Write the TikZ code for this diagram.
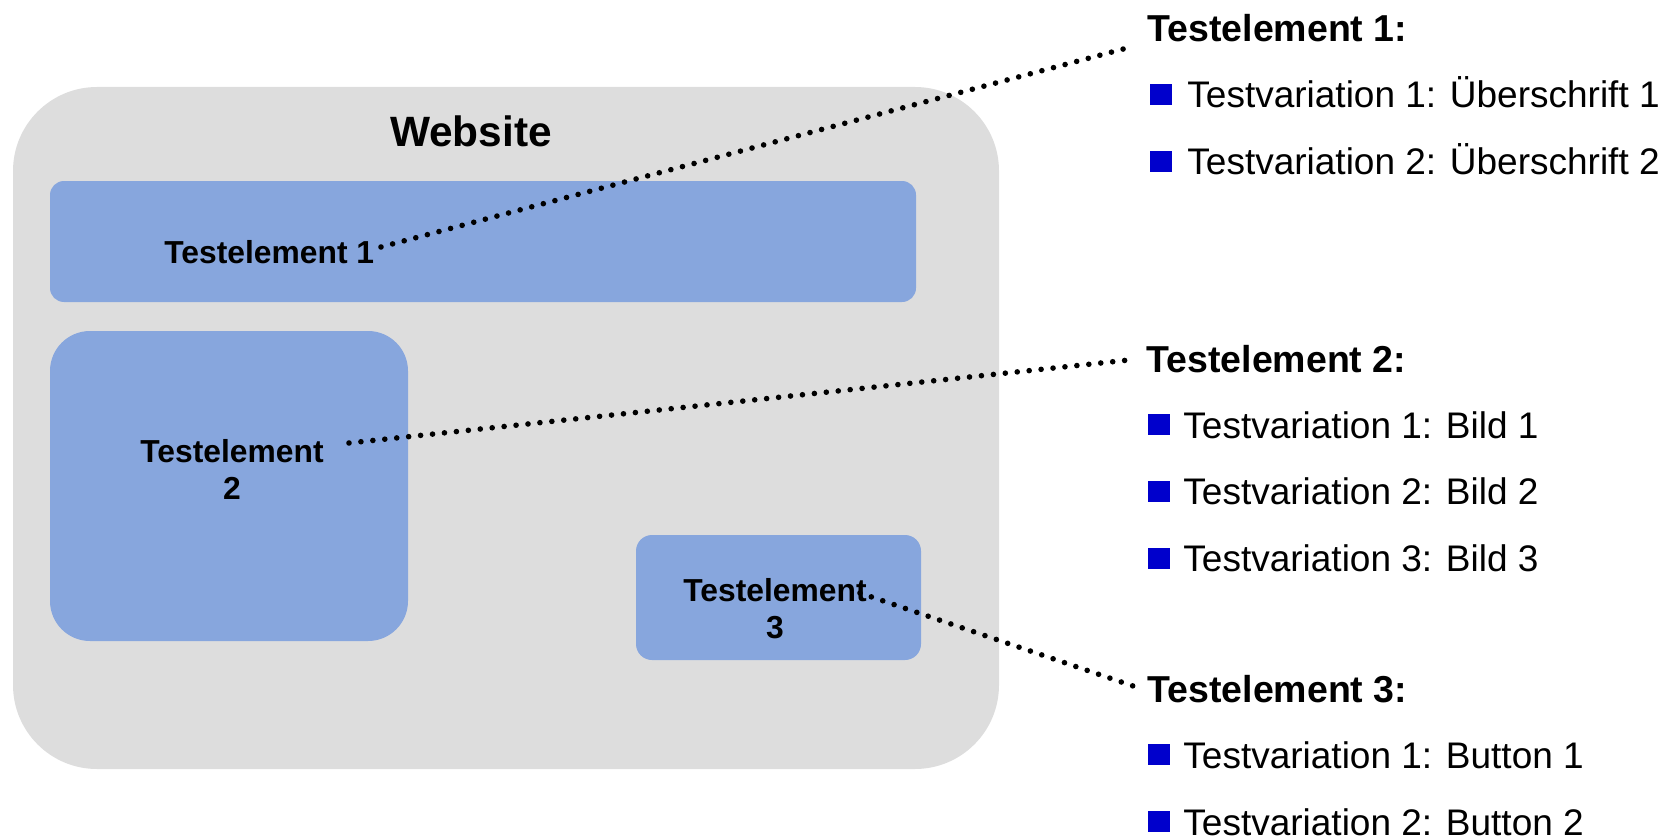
\documentclass[tikz,border=0pt]{standalone}
\usepackage{fontspec}
\setmainfont{Liberation Sans}
\definecolor{webgray}{HTML}{DDDDDD}
\definecolor{boxblue}{HTML}{87A6DD}
\definecolor{bulletblue}{HTML}{0000CC}
\tikzset{
  pane/.style={rectangle, fill=webgray, inner sep=0pt, outer sep=0pt},
  elembox/.style={rectangle, fill=boxblue, inner sep=0pt, outer sep=0pt},
  elemlabel/.style={inner sep=0pt, align=center, font=\bfseries\fontsize{15.9}{18.5}\selectfont},
  heading/.style={inner sep=0pt, anchor=base west, font=\bfseries\fontsize{18.75}{22}\selectfont},
  itemtext/.style={inner sep=0pt, anchor=base west, font=\fontsize{18.5}{22}\selectfont},
  bulletsq/.style={rectangle, fill=bulletblue, inner sep=0pt, outer sep=0pt, minimum width=10.8pt, minimum height=10.5pt},
  dotline/.style={line width=2.8pt, line cap=round, dash pattern=on 0pt off 6pt}
}
\begin{document}
\begin{tikzpicture}[x=0.5pt, y=-0.5pt]
\useasboundingbox (0,0) rectangle (1670,840);

% website pane
\node[pane, rounded corners=42pt, minimum width=493pt, minimum height=341pt] (web) at (506,428) {};
\node[inner sep=0pt, anchor=base, font=\bfseries\fontsize{21.2}{25}\selectfont] (webtitle) at (471,147) {Website};

% element boxes
\node[elembox, rounded corners=7pt, minimum width=433pt, minimum height=60.5pt] (box1) at (483,241.5) {};
\node[elembox, rounded corners=20pt, minimum width=179pt, minimum height=155pt] (box2) at (229,486) {};
\node[elembox, rounded corners=8pt, minimum width=142.5pt, minimum height=62.5pt] (box3) at (778.5,597.5) {};

\node[elemlabel, anchor=base west] (lab1) at (164,263) {Testelement 1};
\node[elemlabel] (lab2) at (232,469) {Testelement\\2};
\node[elemlabel] (lab3) at (775,609) {Testelement\\3};

% right side lists
\node[heading] (h1) at (1147,42) {Testelement 1:};
\node[bulletsq] (b11) at (1161,94.5) {};
\node[itemtext] (t11) at (1187,108) {Testvariation 1: Überschrift 1};
\node[bulletsq] (b12) at (1161,161.5) {};
\node[itemtext] (t12) at (1187,174) {Testvariation 2: Überschrift 2};

\node[heading] (h2) at (1146,372) {Testelement 2:};
\node[bulletsq] (b21) at (1159,424.5) {};
\node[itemtext] (t21) at (1183,438) {Testvariation 1: Bild 1};
\node[bulletsq] (b22) at (1159,491.5) {};
\node[itemtext] (t22) at (1183,504) {Testvariation 2: Bild 2};
\node[bulletsq] (b23) at (1159,558) {};
\node[itemtext] (t23) at (1183,571) {Testvariation 3: Bild 3};

\node[heading] (h3) at (1147,702) {Testelement 3:};
\node[bulletsq] (b31) at (1159,754.5) {};
\node[itemtext] (t31) at (1183,768) {Testvariation 1: Button 1};
\node[bulletsq] (b32) at (1159,821.5) {};
\node[itemtext] (t32) at (1183,835) {Testvariation 2: Button 2};

% dotted connectors
\coordinate (c1s) at (381,247);
\coordinate (c1e) at (1127,48);
\coordinate (c2s) at (349,443);
\coordinate (c2e) at (1129,360);
\coordinate (c3s) at (860,593);
\coordinate (c3e) at (1136,687);
\draw[dotline] (c1s) -- (c1e);
\draw[dotline] (c2s) -- (c2e);
\draw[dotline] (c3s) -- (c3e);
\end{tikzpicture}
\end{document}
